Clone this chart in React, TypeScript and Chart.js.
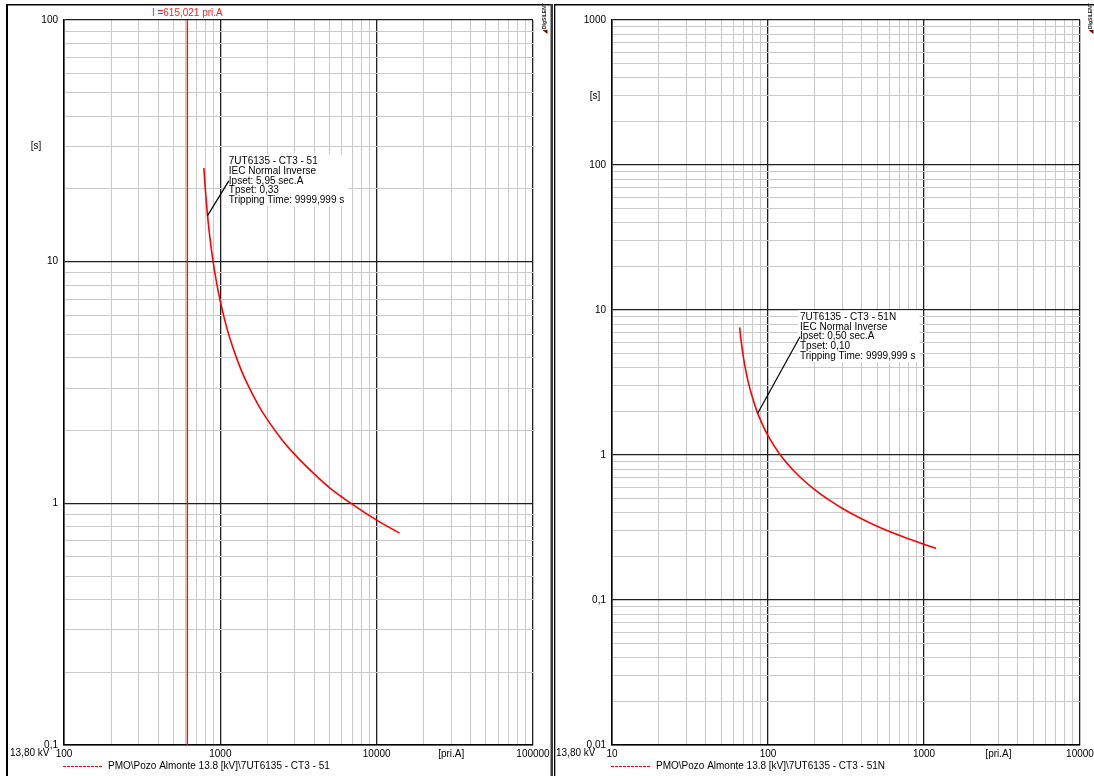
import React, { useEffect, useRef } from 'react';
import { Chart, registerables } from 'chart.js';

Chart.register(...registerables);

const FONT = "'Liberation Sans', Arial, Helvetica, sans-serif";

// ---------- Left panel: 7UT6135 - CT3 - 51 ----------
const leftCurrent = [785, 800, 825, 850, 900, 950, 1000, 1100, 1200, 1350, 1500, 1750, 2000, 2500, 3000, 4000, 5000, 7000, 10000, 14000];
const leftTime = [24.4, 20.3, 15.96, 13.2, 9.95, 8.07, 6.83, 5.32, 4.43, 3.6, 3.09, 2.55, 2.22, 1.82, 1.59, 1.32, 1.16, 0.99, 0.852, 0.753];
const leftMarkerCurrent = 615.021;
const leftMarkerLabel = 'I =615,021 pri.A';
const leftXDecades = [100, 1000, 10000, 100000];
const leftYDecades = [0.1, 1, 10, 100];
const leftAnnotation = [
  '7UT6135 - CT3 - 51',
  'IEC Normal Inverse',
  'Ipset: 5,95 sec.A',
  'Tpset: 0,33',
  'Tripping Time: 9999,999 s',
];
const leftLeaderFrom = [828, 15.5];
const leftLeaderTo = [1133, 21.6];
const leftLegend = 'PMO\\Pozo Almonte 13.8 [kV]\\7UT6135 - CT3 - 51';
const leftUnitX = 30000;
const leftUnitY = 30;

// ---------- Right panel: 7UT6135 - CT3 - 51N ----------
const rightCurrent = [65.8, 67, 68.5, 70, 72, 75, 80, 85, 90, 100, 120, 150, 200, 250, 300, 400, 500, 700, 1000, 1194];
const rightTime = [7.58, 6.34, 5.28, 4.53, 3.83, 3.13, 2.43, 2.0, 1.72, 1.36, 1.0, 0.757, 0.574, 0.484, 0.428, 0.362, 0.323, 0.278, 0.242, 0.227];
const rightXDecades = [10, 100, 1000, 10000];
const rightYDecades = [0.01, 0.1, 1, 10, 100, 1000];
const rightAnnotation = [
  '7UT6135 - CT3 - 51N',
  'IEC Normal Inverse',
  'Ipset: 0,50 sec.A',
  'Tpset: 0,10',
  'Tripping Time: 9999,999 s',
];
const rightLeaderFrom = [85.9, 1.94];
const rightLeaderTo = [160.3, 6.54];
const rightLegend = 'PMO\\Pozo Almonte 13.8 [kV]\\7UT6135 - CT3 - 51N';
const rightUnitX = 3000;
const rightUnitY = 300;

const voltageLabel = '13,80 kV';
const minorSteps = [1, 2, 3, 4, 5, 6, 7, 8, 9];

function logTicks(decades: number[]) {
  const out: number[] = [];
  for (let i = 0; i < decades.length - 1; i++) {
    for (const m of minorSteps) out.push(Number((decades[i] * m).toPrecision(8)));
  }
  out.push(decades[decades.length - 1]);
  return out;
}

function isDecade(v: number) {
  if (!v || v <= 0) return false;
  const l = Math.log10(v);
  return Math.abs(l - Math.round(l)) < 1e-9;
}

function near(a: number, b: number) {
  return Math.abs(a - b) / b < 1e-6;
}

function fmt(v: number) {
  return String(v).replace('.', ',');
}

type PanelDef = {
  width: number;
  pageLeft: number;
  padding: { left: number; right: number; top: number; bottom: number };
  current: number[];
  time: number[];
  xDecades: number[];
  yDecades: number[];
  unitX: number;
  unitY: number;
  annotation: string[];
  leaderFrom: number[];
  leaderTo: number[];
  legend: string;
  marker?: number;
  markerLabel?: string;
  isLeft: boolean;
};

const panels: PanelDef[] = [
  {
    width: 553,
    pageLeft: 0,
    padding: { left: 8, right: 20, top: 20, bottom: 11 },
    current: leftCurrent,
    time: leftTime,
    xDecades: leftXDecades,
    yDecades: leftYDecades,
    unitX: leftUnitX,
    unitY: leftUnitY,
    annotation: leftAnnotation,
    leaderFrom: leftLeaderFrom,
    leaderTo: leftLeaderTo,
    legend: leftLegend,
    marker: leftMarkerCurrent,
    markerLabel: leftMarkerLabel,
    isLeft: true,
  },
  {
    width: 541,
    pageLeft: 553,
    padding: { left: 3, right: 14, top: 20, bottom: 11 },
    current: rightCurrent,
    time: rightTime,
    xDecades: rightXDecades,
    yDecades: rightYDecades,
    unitX: rightUnitX,
    unitY: rightUnitY,
    annotation: rightAnnotation,
    leaderFrom: rightLeaderFrom,
    leaderTo: rightLeaderTo,
    legend: rightLegend,
    isLeft: false,
  },
];

function makeDecor(p: PanelDef) {
  return {
    id: 'decor',
    afterDatasetsDraw(chart: any) {
      const ctx = chart.ctx as CanvasRenderingContext2D;
      const xs = chart.scales.x;
      const ys = chart.scales.y;
      const ax = xs.getPixelForValue(p.leaderFrom[0]);
      const ay = ys.getPixelForValue(p.leaderFrom[1]);
      const ex = xs.getPixelForValue(p.leaderTo[0]);
      const ey = ys.getPixelForValue(p.leaderTo[1]);
      ctx.save();
      ctx.font = `10px ${FONT}`;
      const w = Math.max(...p.annotation.map((l) => ctx.measureText(l).width));
      const lh = 9.7;
      const top = ey - 2 * lh - 7;
      const bottom = ey + 2 * lh + 6;
      ctx.fillStyle = '#ffffff';
      ctx.fillRect(ex - 2, top, w + 6, bottom - top);
      ctx.strokeStyle = '#000';
      ctx.lineWidth = 1.2;
      ctx.beginPath();
      ctx.moveTo(ax, ay);
      ctx.lineTo(ex, ey);
      ctx.stroke();
      ctx.fillStyle = '#000';
      ctx.textAlign = 'left';
      ctx.textBaseline = 'middle';
      p.annotation.forEach((l, i) => ctx.fillText(l, ex, ey + (i - 2) * lh));
      ctx.restore();
    },
    afterDraw(chart: any) {
      const ctx = chart.ctx as CanvasRenderingContext2D;
      const xs = chart.scales.x;
      const ys = chart.scales.y;
      const area = chart.chartArea;
      ctx.save();
      // frames
      ctx.fillStyle = '#000';
      if (p.isLeft) {
        ctx.fillRect(6, 4, 2, 772);
        ctx.fillRect(6, 4, p.width - 6, 1.5);
        ctx.fillStyle = '#3a3a3a';
        ctx.fillRect(550.5, 4, 2.5, 772);
      } else {
        ctx.fillRect(1, 4, 1.3, 772);
        ctx.fillRect(1, 4, p.width, 1.5);
      }
      // logo
      ctx.save();
      const logoX = p.isLeft ? 545 : 538;
      ctx.translate(logoX, 34);
      ctx.rotate(-Math.PI / 2);
      ctx.fillStyle = '#7a0000';
      ctx.beginPath();
      ctx.moveTo(0, 2.5);
      ctx.lineTo(4, 2.5);
      ctx.lineTo(4, -2.5);
      ctx.closePath();
      ctx.fill();
      ctx.fillStyle = '#222';
      ctx.font = `bold 5px ${FONT}`;
      ctx.textAlign = 'left';
      ctx.textBaseline = 'middle';
      ctx.fillText('DIgSILENT', 5, 0);
      ctx.restore();
      // texts
      ctx.fillStyle = '#000';
      ctx.font = `10px ${FONT}`;
      ctx.textBaseline = 'middle';
      ctx.textAlign = 'left';
      ctx.fillText(voltageLabel, p.isLeft ? 10 : 3, 753);
      ctx.textAlign = 'center';
      ctx.fillText('[s]', p.isLeft ? 36 : 42, ys.getPixelForValue(p.unitY));
      // legend
      const lx = area.left - 1;
      ctx.strokeStyle = '#ff0000';
      ctx.lineWidth = 1;
      ctx.setLineDash([3, 1]);
      ctx.beginPath();
      ctx.moveTo(lx, 766.5);
      ctx.lineTo(lx + 39, 766.5);
      ctx.stroke();
      ctx.setLineDash([]);
      ctx.textAlign = 'left';
      ctx.fillStyle = '#000';
      ctx.fillText(p.legend, lx + 45, 766.5);
      // marker label
      if (p.marker && p.markerLabel) {
        ctx.fillStyle = '#ff2020';
        ctx.textAlign = 'center';
        ctx.fillText(p.markerLabel, xs.getPixelForValue(p.marker), 13.5);
      }
      ctx.restore();
    },
  };
}

function buildConfig(p: PanelDef): any {
  const xTicks = logTicks(p.xDecades);
  const yTicks = logTicks(p.yDecades);
  const xMin = p.xDecades[0];
  const xMax = p.xDecades[p.xDecades.length - 1];
  const yMin = p.yDecades[0];
  const yMax = p.yDecades[p.yDecades.length - 1];
  const datasets: any[] = [
    {
      label: p.legend,
      data: p.current.map((c, i) => ({ x: c, y: p.time[i] })),
      borderColor: '#ff0000',
      borderWidth: 1.6,
      pointRadius: 0,
      fill: false,
      cubicInterpolationMode: 'monotone',
    },
  ];
  if (p.marker) {
    datasets.push({
      label: 'marker',
      data: [
        { x: p.marker, y: yMin },
        { x: p.marker, y: yMax },
      ],
      borderColor: '#ff0000',
      borderWidth: 1.3,
      pointRadius: 0,
      fill: false,
      tension: 0,
    });
  }
  const gridColor = (ctx: any) => (ctx.tick && isDecade(ctx.tick.value) ? '#1e1e1e' : '#c9c9c9');
  const gridWidth = (ctx: any) => (ctx.tick && isDecade(ctx.tick.value) ? 1.3 : 1);
  return {
    type: 'line',
    data: { datasets },
    plugins: [makeDecor(p)],
    options: {
      animation: false,
      responsive: false,
      devicePixelRatio: 1,
      layout: { padding: p.padding },
      plugins: {
        legend: { display: false },
        tooltip: { enabled: false },
      },
      elements: { line: { tension: 0 } },
      scales: {
        x: {
          type: 'logarithmic',
          min: xMin,
          max: xMax,
          afterBuildTicks: (scale: any) => {
            scale.ticks = xTicks.map((v) => ({ value: v }));
          },
          afterFit: (scale: any) => {
            scale.height = 20;
            scale.paddingLeft = 0;
            scale.paddingRight = 0;
          },
          grid: { color: gridColor, lineWidth: gridWidth, drawTicks: false },
          border: { display: true, color: '#000', width: 1.5 },
          ticks: {
            autoSkip: false,
            maxRotation: 0,
            minRotation: 0,
            padding: 3,
            color: '#000',
            font: { family: FONT, size: 10 },
            callback: (v: any) => {
              const n = Number(v);
              if (isDecade(n)) return fmt(n);
              if (near(n, p.unitX)) return '[pri.A]';
              return '';
            },
          },
        },
        y: {
          type: 'logarithmic',
          min: yMin,
          max: yMax,
          afterBuildTicks: (scale: any) => {
            scale.ticks = yTicks.map((v) => ({ value: v }));
          },
          afterFit: (scale: any) => {
            scale.width = 56;
            scale.paddingTop = 0;
            scale.paddingBottom = 0;
          },
          grid: { color: gridColor, lineWidth: gridWidth, drawTicks: false },
          border: { display: true, color: '#000', width: 1.5 },
          ticks: {
            autoSkip: false,
            padding: 6,
            color: '#000',
            font: { family: FONT, size: 10 },
            callback: (v: any) => {
              const n = Number(v);
              return isDecade(n) ? fmt(n) : '';
            },
          },
        },
      },
    },
  };
}

function Panel({ def }: { def: PanelDef }) {
  const ref = useRef<HTMLCanvasElement>(null);
  useEffect(() => {
    if (!ref.current) return;
    const chart = new Chart(ref.current, buildConfig(def));
    return () => chart.destroy();
  }, [def]);
  return (
    <canvas
      ref={ref}
      width={def.width}
      height={776}
      style={{ position: 'absolute', left: def.pageLeft, top: 0, width: def.width, height: 776 }}
    />
  );
}

export default function App() {
  return (
    <div
      style={{
        position: 'fixed',
        left: 0,
        top: 0,
        width: 1094,
        height: 776,
        background: '#ffffff',
        overflow: 'hidden',
      }}
    >
      {panels.map((p, i) => (
        <Panel key={i} def={p} />
      ))}
    </div>
  );
}
